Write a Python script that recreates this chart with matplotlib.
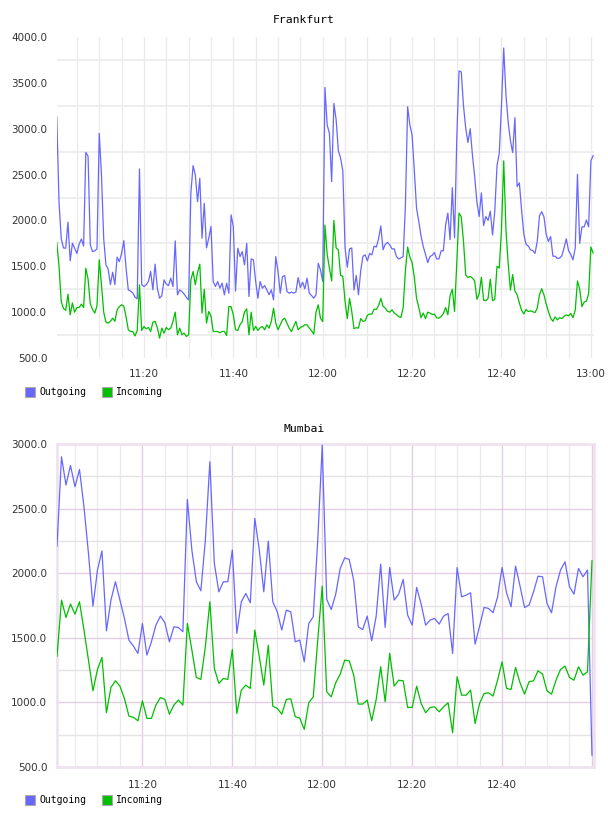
import matplotlib
matplotlib.use("Agg")
import matplotlib.pyplot as plt
import numpy as np
from matplotlib.patches import Rectangle

# Frankfurt: one sample every 30 s, 11:00:30 .. 13:00:30
fra_outgoing = [
    3130, 2200, 1800, 1700, 1697, 1980, 1560, 1751, 1697, 1640,
    1740, 1798, 1720, 2742, 2700, 1733, 1660, 1668, 1690, 2949,
    2500, 1800, 1515, 1470, 1300, 1435, 1300, 1600, 1551, 1642,
    1780, 1480, 1243, 1230, 1210, 1165, 1145, 2561, 1300, 1279,
    1298, 1334, 1443, 1243, 1523, 1261, 1152, 1180, 1352, 1305,
    1290, 1370, 1279, 1777, 1189, 1243, 1225, 1196, 1160, 1134,
    2300, 2597, 2495, 2205, 2459, 1806, 2187, 1700, 1806, 1933,
    1334, 1279, 1334, 1261, 1316, 1189, 1316, 1207, 2060, 1933,
    1230, 1697, 1606, 1660, 1515, 1751, 1170, 1581, 1570, 1334,
    1152, 1334, 1261, 1290, 1243, 1189, 1243, 1134, 1606, 1443,
    1207, 1388, 1399, 1225, 1207, 1218, 1207, 1218, 1377, 1268,
    1327, 1254, 1370, 1207, 1181, 1152, 1189, 1533, 1461, 1334,
    3450, 3040, 2950, 2423, 3276, 3100, 2760, 2680, 2540, 1700,
    1490, 1690, 1700, 1240, 1400, 1190, 1450, 1610, 1624, 1560,
    1640, 1624, 1720, 1710, 1800, 1940, 1680, 1740, 1760, 1733,
    1690, 1690, 1606, 1580, 1592, 1606, 2150, 3240, 3040, 2930,
    2540, 2130, 1990, 1830, 1715, 1630, 1540, 1606, 1620, 1650,
    1580, 1580, 1670, 1668, 1950, 2080, 1790, 2357, 1810, 2900,
    3630, 3620, 3250, 3004, 2850, 3000, 2713, 2480, 2200, 2042,
    2300, 1945, 2042, 2000, 2100, 1842, 2100, 2600, 2731, 3250,
    3880, 3370, 3070, 2870, 2740, 3120, 2370, 2410, 2110, 1850,
    1740, 1720, 1679, 1672, 1640, 1769, 2050, 2095, 2040, 1850,
    1770, 1824, 1610, 1610, 1585, 1590, 1615, 1700, 1800, 1670,
    1630, 1570, 1700, 2503, 1750, 1930, 1930, 2005, 1930, 2650,
    2706,
]
fra_incoming = [
    1762, 1500, 1116, 1040, 1020, 1196, 971, 1100, 1000, 1050,
    1051, 1087, 1050, 1479, 1360, 1090, 1030, 989, 1070, 1570,
    1300, 1000, 891, 880, 900, 934, 900, 1025, 1060, 1080,
    1065, 950, 808, 789, 790, 740, 800, 1298, 800, 844,
    818, 833, 789, 890, 900, 830, 717, 826, 771, 833,
    808, 826, 900, 1000, 753, 826, 753, 771, 735, 753,
    1352, 1443, 1298, 1435, 1523, 989, 1250, 880, 1007, 960,
    789, 789, 789, 775, 790, 790, 745, 1061, 1060, 971,
    808, 800, 862, 898, 1000, 1036, 753, 1000, 800, 844,
    800, 830, 844, 808, 862, 826, 898, 1043, 880, 808,
    862, 916, 934, 880, 826, 789, 844, 898, 808, 833,
    844, 862, 862, 826, 797, 760, 1000, 1080, 934, 898,
    1950, 1630, 1480, 1340, 2000, 1700, 1679, 1400, 1390, 1120,
    930, 1150, 1007, 820, 830, 826, 930, 900, 905, 965,
    980, 978, 1033, 1030, 1072, 1150, 1065, 1043, 1010, 1000,
    1025, 990, 975, 950, 942, 1050, 1450, 1710, 1600, 1540,
    1380, 1150, 1050, 940, 990, 930, 1000, 989, 975, 978,
    938, 934, 953, 985, 1050, 971, 1180, 1250, 1007, 1550,
    2080, 2040, 1770, 1405, 1377, 1390, 1372, 1340, 1140, 1200,
    1380, 1130, 1125, 1150, 1360, 1125, 1140, 1500, 1480, 1900,
    2650, 1900, 1530, 1240, 1410, 1230, 1189, 1100, 1020, 980,
    1030, 1007, 1014, 1005, 995, 1043, 1190, 1255, 1189, 1090,
    1007, 934, 900, 948, 916, 940, 930, 953, 971, 960,
    985, 940, 1020, 1340, 1250, 1060, 1110, 1120, 1200, 1710,
    1645,
]

# Mumbai: one sample a minute, 11:01 .. 13:00
mum_outgoing = [
    2209, 2901, 2682, 2834, 2669, 2803, 2514, 2153, 1745, 2024,
    2173, 1554, 1792, 1934, 1792, 1650, 1482, 1436, 1379, 1611,
    1366, 1469, 1598, 1668, 1616, 1469, 1585, 1580, 1547, 2571,
    2179, 1934, 1864, 2256, 2862, 2075, 1856, 1934, 1934, 2179,
    1534, 1779, 1843, 1771, 2424, 2179, 1856, 2248, 1779, 1701,
    1560, 1714, 1701, 1469, 1482, 1314, 1611, 1663, 2256, 2991,
    1797, 1719, 1838, 2037, 2119, 2106, 1946, 1585, 1564, 1668,
    1477, 1668, 2070, 1580, 2044, 1792, 1838, 1952, 1675, 1598,
    1890, 1761, 1598, 1637, 1650, 1606, 1668, 1688, 1379, 2044,
    1817, 1830, 1848, 1451, 1590, 1735, 1727, 1694, 1817, 2044,
    1848, 1740, 2055, 1900, 1735, 1753, 1856, 1977, 1972, 1766,
    1694, 1895, 2024, 2088, 1895, 1838, 2037, 1972, 2024, 592,
]
mum_incoming = [
    1358, 1792, 1657, 1761, 1683, 1779, 1560, 1327, 1090, 1255,
    1348, 920, 1116, 1167, 1126, 1030, 894, 884, 858, 1012,
    876, 876, 979, 1038, 1023, 909, 979, 1018, 979, 1611,
    1405, 1193, 1178, 1430, 1779, 1263, 1147, 1185, 1178, 1410,
    914, 1095, 1134, 1108, 1560, 1353, 1134, 1443, 971, 953,
    909, 1023, 1028, 889, 878, 791, 997, 1043, 1482, 1900,
    1082, 1043, 1152, 1219, 1327, 1322, 1211, 987, 987, 1018,
    858, 1023, 1276, 1005, 1379, 1126, 1172, 1167, 961, 961,
    1126, 992, 920, 961, 966, 927, 966, 997, 765, 1198,
    1056, 1056, 1095, 837, 992, 1069, 1074, 1049, 1172, 1314,
    1108, 1100, 1270, 1152, 1064, 1160, 1167, 1245, 1219, 1090,
    1064, 1172, 1255, 1281, 1193, 1172, 1276, 1211, 1237, 2096,
]

# minutes after 11:00
fra_time = np.arange(len(fra_outgoing)) * 0.5 + 0.5
mum_time = np.arange(len(mum_outgoing)) + 1.0

time_ticks = [20, 40, 60, 80, 100, 120]
time_labels = ["11:20", "11:40", "12:00", "12:20", "12:40", "13:00"]

BLUE = "#6767ff"
GREEN = "#00bf00"
GRID = "#ebebeb"
PURPLE = "#e3cde3"
TICKFONT = dict(family="DejaVu Sans", size=7.5, color="#333333")
MONO = "DejaVu Sans Mono"

fig = plt.figure(figsize=(6.08, 8.16), dpi=100)


def draw_panel(ax, t, out, inc, yticks, ylim, xlim, nticks, purple):
    ax.set_xlim(*xlim)
    ax.set_ylim(*ylim)
    # 5-minute vertical grid, half-step horizontal grid
    for m in range(5, 125, 5):
        if xlim[0] < m < xlim[1]:
            major = purple and m % 20 == 0
            ax.axvline(m, color=PURPLE if major else GRID, lw=1.0, zorder=0)
    step = yticks[1] - yticks[0]
    for v in yticks:
        if purple and ylim[0] < v < ylim[1]:
            ax.axhline(v, color=PURPLE, lw=1.0, zorder=0)
        if v + step / 2 < ylim[1]:
            ax.axhline(v + step / 2, color="#e6e1e6" if purple else GRID,
                       lw=1.0 if purple else 1.2, zorder=0)
    ax.plot(t, out, color=BLUE, lw=0.9, zorder=3)
    ax.plot(t, inc, color=GREEN, lw=0.9, zorder=3)
    ax.set_yticks(yticks)
    ax.set_yticklabels(["%.1f" % v for v in yticks], **TICKFONT)
    ax.set_xticks(time_ticks[:nticks])
    ax.set_xticklabels(time_labels[:nticks], **TICKFONT)
    ax.tick_params(length=0)
    ax.tick_params(axis="x", pad=9 if purple else 8)
    ax.tick_params(axis="y", pad=7)
    for s in ax.spines.values():
        if purple:
            s.set_color("#f0e2f0")
            s.set_linewidth(2)
        else:
            s.set_visible(False)


ax1 = fig.add_axes([57 / 608, 1 - 358 / 816, 537 / 608, 321 / 816])
draw_panel(ax1, fra_time, fra_outgoing, fra_incoming,
           [500, 1000, 1500, 2000, 2500, 3000, 3500, 4000],
           (500, 4000), (0.55, 120.7), 6, False)

ax2 = fig.add_axes([57 / 608, 1 - 767 / 816, 537 / 608, 323 / 816])
draw_panel(ax2, mum_time, mum_outgoing, mum_incoming,
           [500, 1000, 1500, 2000, 2500, 3000],
           (500, 3000), (1.0, 120.45), 5, True)

fig.text(304 / 608, 1 - 20 / 816, "Frankfurt", family=MONO, size=8.2,
         ha="center", va="center")
fig.text(304 / 608, 1 - 429 / 816, "Mumbai", family=MONO, size=8.2,
         ha="center", va="center")

# legends below each panel
for y in (392, 800):
    for x0, col, name in ((25, BLUE, "Outgoing"), (102, GREEN, "Incoming")):
        fig.patches.append(Rectangle((x0 / 608, 1 - (y + 5) / 816), 10 / 608, 10 / 816,
                                     transform=fig.transFigure, facecolor=col,
                                     edgecolor="#aaaaaa", lw=0.8))
        fig.text((x0 + 14) / 608, 1 - y / 816, name, family=MONO, size=7,
                 ha="left", va="center")

fig.savefig("out.png", dpi=100)
